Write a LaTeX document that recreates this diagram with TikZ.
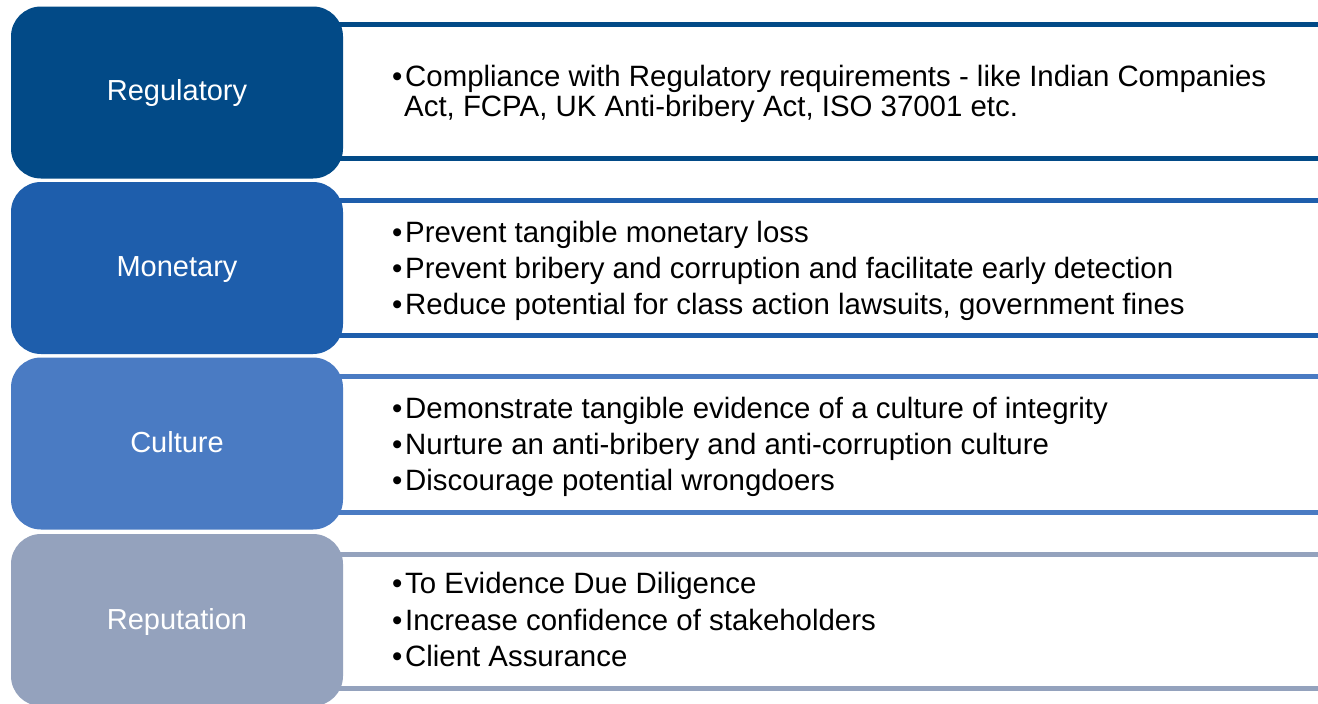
\documentclass[tikz,border=0pt]{standalone}
\usepackage{fontspec}
\setmainfont{Liberation Sans}
\definecolor{cA}{RGB}{2,74,135}
\definecolor{cB}{RGB}{30,94,172}
\definecolor{cC}{RGB}{74,123,195}
\definecolor{cD}{RGB}{148,162,189}
\newcommand{\bul}{\makebox[13pt][l]{•}}
\tikzset{
  catbox/.style={rounded corners=30pt, minimum width=332pt, minimum height=172pt, inner sep=0pt, draw=none},
  catlabel/.style={anchor=base, text=white, font=\fontsize{29}{31}\selectfont, inner sep=0pt},
  bullet/.style={anchor=base west, text=black, font=\fontsize{29.4}{31}\selectfont, inner sep=0pt},
  band/.style={line width=5pt},
}
\begin{document}
\begin{tikzpicture}[x=1pt,y=-1pt]
\useasboundingbox (0,0) rectangle (1318,704);
\clip (0,0) rectangle (1318,704);
\fill[white] (0,0) rectangle (1318,704);
% right panels: top and bottom bands
\coordinate (t1l) at (320,24.5);  \coordinate (t1r) at (1330,24.5);
\coordinate (u1l) at (320,158);   \coordinate (u1r) at (1330,158);
\coordinate (t2l) at (320,200.5); \coordinate (t2r) at (1330,200.5);
\coordinate (u2l) at (320,335);   \coordinate (u2r) at (1330,335);
\coordinate (t3l) at (320,376.5); \coordinate (t3r) at (1330,376.5);
\coordinate (u3l) at (320,512);   \coordinate (u3r) at (1330,512);
\coordinate (t4l) at (320,554);   \coordinate (t4r) at (1330,554);
\coordinate (u4l) at (320,688);   \coordinate (u4r) at (1330,688);
\draw[band,cA] (t1l) -- (t1r); \draw[band,cA] (u1l) -- (u1r);
\draw[band,cB] (t2l) -- (t2r); \draw[band,cB] (u2l) -- (u2r);
\draw[band,cC] (t3l) -- (t3r); \draw[band,cC] (u3l) -- (u3r);
\draw[band,cD] (t4l) -- (t4r); \draw[band,cD] (u4l) -- (u4r);
% left category boxes
\node[catbox, fill=cA] (box1) at (177,92.5) {};
\node[catbox, fill=cB] (box2) at (177,268) {};
\node[catbox, fill=cC] (box3) at (177,443.5) {};
\node[catbox, fill=cD] (box4) at (177,620) {};
\node[catlabel] (lab1) at (177,100) {Regulatory};
\node[catlabel] (lab2) at (177,276) {Monetary};
\node[catlabel] (lab3) at (177,452) {Culture};
\node[catlabel] (lab4) at (177,629) {Reputation};
% bullet texts
\node[bullet] (r1a) at (392,86) {\bul Compliance with Regulatory requirements - like Indian Companies};
\node[bullet] (r1b) at (392,116) {\hspace*{12pt}Act, FCPA, UK Anti-bribery Act, ISO 37001 etc.};
\node[bullet] (m1) at (392,242) {\bul Prevent tangible monetary loss};
\node[bullet] (m2) at (392,278) {\bul Prevent bribery and corruption and facilitate early detection};
\node[bullet] (m3) at (392,314) {\bul Reduce potential for class action lawsuits, government fines};
\node[bullet] (c1) at (392,418) {\bul Demonstrate tangible evidence of a culture of integrity};
\node[bullet] (c2) at (392,454) {\bul Nurture an anti-bribery and anti-corruption culture};
\node[bullet] (c3) at (392,490) {\bul Discourage potential wrongdoers};
\node[bullet] (p1) at (392,593) {\bul To Evidence Due Diligence};
\node[bullet] (p2) at (392,630) {\bul Increase confidence of stakeholders};
\node[bullet] (p3) at (392,666) {\bul Client Assurance};
\end{tikzpicture}
\end{document}
